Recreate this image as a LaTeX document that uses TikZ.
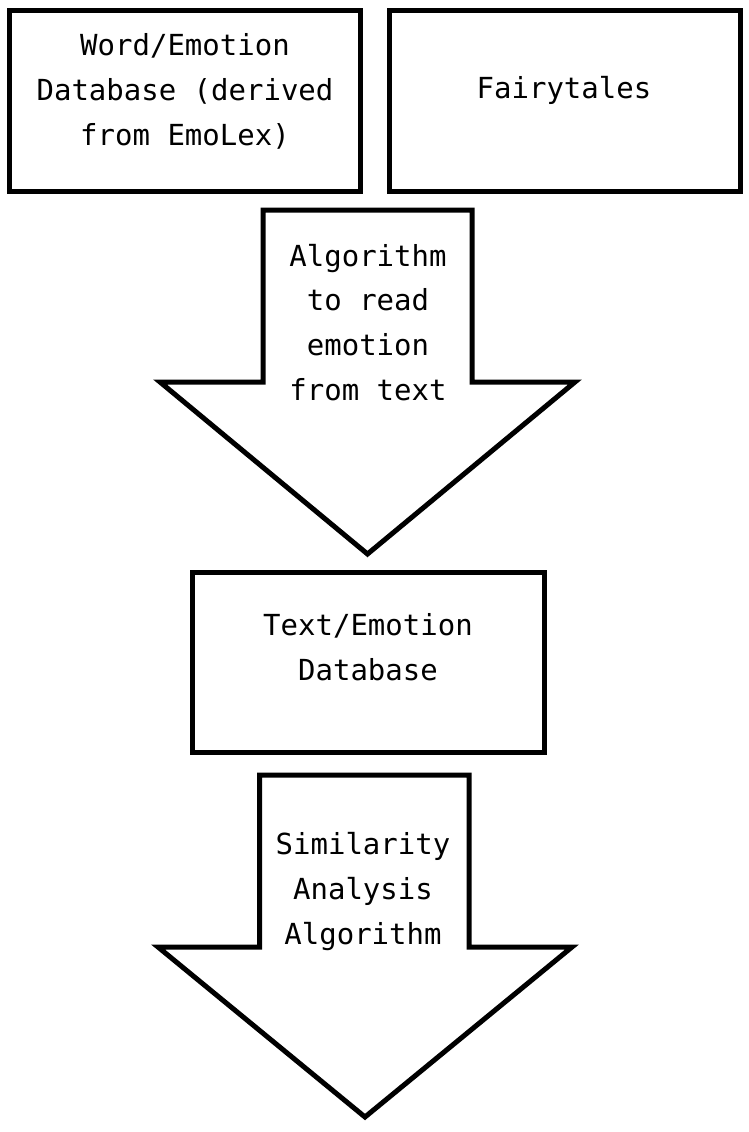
\documentclass[tikz,border=0pt]{standalone}
\usepackage{fontspec}
\setmonofont{DejaVu Sans Mono}
\usetikzlibrary{calc,positioning}

\tikzset{
  boxtext/.style={font=\ttfamily\fontsize{14.5}{22.3}\selectfont,align=center,inner sep=0pt,anchor=base}
}

\begin{document}
\begin{tikzpicture}[x=0.5pt,y=-0.5pt,line width=2.5pt,line join=miter]
\useasboundingbox (0,0) rectangle (749,1132);

% boxes
\coordinate (W1) at (9.5,10.5);
\coordinate (W2) at (360.5,191.5);
\coordinate (F1) at (389,10.5);
\coordinate (F2) at (740.5,191.5);
\coordinate (T1) at (192.5,572.5);
\coordinate (T2) at (544.5,752.5);

\draw (W1) rectangle (W2);
\draw (F1) rectangle (F2);
\draw (T1) rectangle (T2);

% first block arrow
\coordinate (A1) at (263,210);
\coordinate (A2) at (472,210);
\coordinate (A3) at (472,382);
\coordinate (A4) at (575,382);
\coordinate (A5) at (367.5,554);
\coordinate (A6) at (160,382);
\coordinate (A7) at (263,382);
\draw (A1) -- (A2) -- (A3) -- (A4) -- (A5) -- (A6) -- (A7) -- cycle;

% second block arrow
\coordinate (S1) at (259.5,775);
\coordinate (S2) at (469,775);
\coordinate (S3) at (469,947);
\coordinate (S4) at (572,947);
\coordinate (S5) at (365,1117);
\coordinate (S6) at (158,947);
\coordinate (S7) at (259.5,947);
\draw (S1) -- (S2) -- (S3) -- (S4) -- (S5) -- (S6) -- (S7) -- cycle;

% texts (anchored at the baseline of the last line)
\node[boxtext] (worddb) at (185,145) {Word/Emotion\\Database (derived\\from EmoLex)};
\node[boxtext] (fairy) at (564,98) {Fairytales};
\node[boxtext] (readalgo) at (368,400) {Algorithm\\to read\\emotion\\from text};
\node[boxtext] (textdb) at (368,680) {Text/Emotion\\Database};
\node[boxtext] (simalgo) at (363,944) {Similarity\\Analysis\\Algorithm};
\end{tikzpicture}
\end{document}
